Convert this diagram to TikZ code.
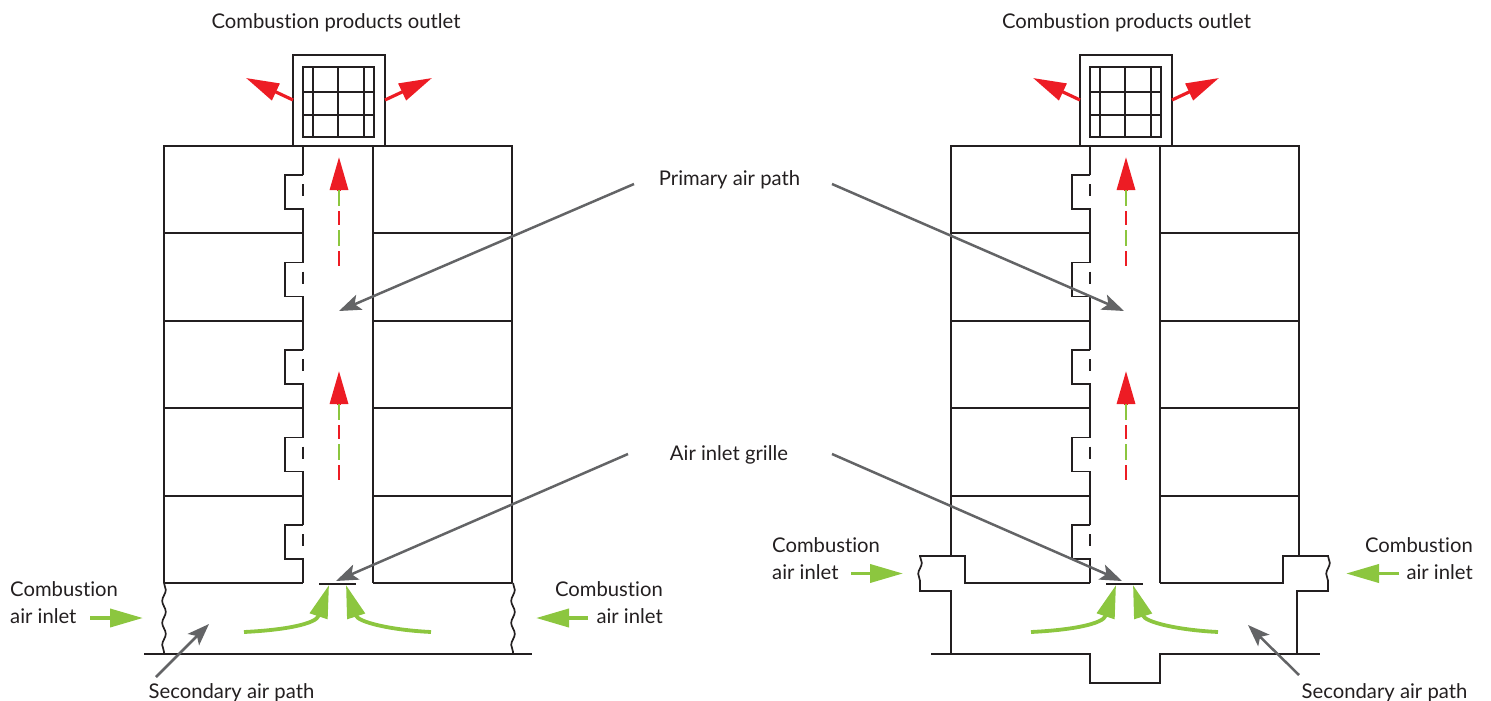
\documentclass[tikz,border=0pt]{standalone}
\usepackage{fontspec}
\setmainfont{Lato}[Ligatures=NoCommon]
\usetikzlibrary{arrows.meta,decorations.pathmorphing}

\definecolor{wallblack}{HTML}{231F20}
\definecolor{leadgrey}{HTML}{636466}
\definecolor{flowred}{HTML}{ED1C24}
\definecolor{flowgreen}{HTML}{8CC63F}

\begin{document}
\begin{tikzpicture}[
                        x=1pt,
                        y=-1pt,
                        wall/.style={draw=wallblack,line width=1.7pt},
                        wavy/.style={wall,decorate,decoration={snake,segment length=22pt,amplitude=1.8pt}},
                        leader/.style={draw=leadgrey,line width=2.5pt,-{Stealth[length=22pt,width=16pt,inset=5pt]}},
                        redflow/.style={draw=flowred,line width=3.2pt,-{Triangle[length=33pt,width=18pt]}},
                        greenflow/.style={draw=flowgreen,line width=3.8pt,-{Triangle[length=33pt,width=18pt]}},
                        label/.style={font=\fontsize{20.25}{27}\selectfont,text=wallblack,inner sep=0pt},
                    ]

                    \useasboundingbox (0,0) rectangle (1491,701);

                    % parts shared by the two buildings
                    \foreach \x/\s in {0/L,787/R}{
                            \begin{scope}[xshift=\x pt]
                                % chimney and grid
                                \draw[wall] (293,55) rectangle (385,146);
                                \draw[wall] (303,67) rectangle (374,137);
                                \foreach \g in {313,338,364}{
                                        \draw[wall,line width=1.4pt] (\g,67) -- (\g,137);
                                    }
                                \foreach \g in {92,115}{
                                        \draw[wall,line width=1.4pt] (303,\g) -- (374,\g);
                                    }

                                % walls and floors
                                \draw[wall] (164,556) -- (164,146) -- (293,146);
                                \draw[wall] (385,146) -- (512,146) -- (512,556);
                                \draw[wall] (373,146) -- (373,583);
                                \foreach \y in {233,321,408,496}{
                                        \draw[wall] (164,\y) -- (303,\y);
                                        \draw[wall] (373,\y) -- (512,\y);
                                    }

                                % alcoves along the duct
                                \draw[wall] (303,146) -- (303,175);
                                \foreach \y/\e in {175/262.5,262.5/350,350/437.5,437.5/525,525/583}{
                                        \draw[wall] (303,\y) -- (285,\y) -- (285,\y+34) -- (303,\y+34) -- (303,\e);
                                        \draw[wall] (303,\y+9) -- (303,\y+21);
                                    }

                                % grille
                                \draw[wall] (319,584) -- (356,584);

                                % flow in the duct
                                \foreach \b in {190,404}{
                                        \draw[redflow] (339,\b+1) -- (339,\b-33);
                                        \draw[flowgreen,line width=2pt] (339,\b) -- (339,\b+16);
                                        \draw[flowred,line width=2pt] (339,\b+21) -- (339,\b+35);
                                        \draw[flowgreen,line width=2pt] (339,\b+40) -- (339,\b+56);
                                        \draw[flowred,line width=2pt] (339,\b+61) -- (339,\b+76);
                                    }

                                % outlet arrows
                                \coordinate (outA\s) at (293,100);
                                \coordinate (outB\s) at (246,78);
                                \coordinate (outC\s) at (385,100);
                                \coordinate (outD\s) at (432,78);
                                \draw[redflow] (outA\s) -- (outB\s);
                                \draw[redflow] (outC\s) -- (outD\s);

                                % air going up to the grille
                                \coordinate (curveA\s) at (244,632);
                                \coordinate (curveB\s) at (329,585);
                                \coordinate (curveC\s) at (431,632);
                                \coordinate (curveD\s) at (346,585);
                                \draw[greenflow] (curveA\s) .. controls (285,630) and (316,624) .. (curveB\s);
                                \draw[greenflow] (curveC\s) .. controls (390,630) and (358,622) .. (curveD\s);
                            \end{scope}
                        }

                    % base of the left building
                    \draw[wall] (164,556) -- (164,583);
                    \draw[wall] (512,556) -- (512,583);
                    \draw[wall] (164,583) -- (303,583);
                    \draw[wall] (373,583) -- (512,583);
                    \draw[wall] (144,654) -- (532,654);
                    \draw[wavy] (164,583) -- (164,654);
                    \draw[wavy] (513,583) -- (513,654);

                    % base of the right building
                    \draw[wall] (919,556) -- (965,556) -- (965,583) -- (1090,583);
                    \draw[wall] (919,591) -- (951,591) -- (951,654);
                    \draw[wall] (1160,583) -- (1283,583) -- (1283,556) -- (1329,556);
                    \draw[wall] (1329,591) -- (1297,591) -- (1297,654);
                    \draw[wall] (931,654) -- (1090,654) -- (1090,683) -- (1160,683) -- (1160,654) -- (1320,654);
                    \draw[wavy] (920,556) -- (920,591);
                    \draw[wavy] (1328,556) -- (1328,591);

                    % labels
                    \node[label] (outletL) at (336,23) {Combustion products outlet};
                    \node[label] (outletR) at (1126.5,23) {Combustion products outlet};
                    \node[label] (primary) at (729.5,180) {Primary air path};
                    \node[label] (grille) at (729,455) {Air inlet grille};
                    \node[label,align=left,anchor=west] (inletA) at (10,603) {Combustion\\air inlet};
                    \node[label,align=right,anchor=east] (inletB) at (663,603) {Combustion\\air inlet};
                    \node[label,align=left,anchor=west] (inletC) at (772,558.5) {Combustion\\air inlet};
                    \node[label,align=right,anchor=east] (inletD) at (1473,558.5) {Combustion\\air inlet};
                    \node[label] (secondaryL) at (231.5,692.5) {Secondary air path};
                    \node[label] (secondaryR) at (1384.5,692.5) {Secondary air path};

                    % leaders
                    \coordinate (primaryA) at (634,184);
                    \coordinate (primaryB) at (339,311);
                    \coordinate (primaryC) at (832,184);
                    \coordinate (primaryD) at (1124,311);
                    \coordinate (grilleA) at (628,454);
                    \coordinate (grilleB) at (336,581);
                    \coordinate (grilleC) at (832,454);
                    \coordinate (grilleD) at (1122,581);
                    \coordinate (secondaryA) at (156,677);
                    \coordinate (secondaryB) at (209,624);
                    \coordinate (secondaryC) at (1299,675);
                    \coordinate (secondaryD) at (1248,625);
                    \draw[leader] (primaryA) -- (primaryB);
                    \draw[leader] (primaryC) -- (primaryD);
                    \draw[leader] (grilleA) -- (grilleB);
                    \draw[leader] (grilleC) -- (grilleD);
                    \draw[leader] (secondaryA) -- (secondaryB);
                    \draw[leader] (secondaryC) -- (secondaryD);

                    % combustion air arrows
                    \coordinate (airA) at (90,618);
                    \coordinate (airB) at (143,618);
                    \coordinate (airC) at (588,618);
                    \coordinate (airD) at (536,618);
                    \coordinate (airE) at (851,573.5);
                    \coordinate (airF) at (903,573.5);
                    \coordinate (airG) at (1399,573.5);
                    \coordinate (airH) at (1346,573.5);
                    \draw[greenflow] (airA) -- (airB);
                    \draw[greenflow] (airC) -- (airD);
                    \draw[greenflow] (airE) -- (airF);
                    \draw[greenflow] (airG) -- (airH);
                \end{tikzpicture}
\end{document}
